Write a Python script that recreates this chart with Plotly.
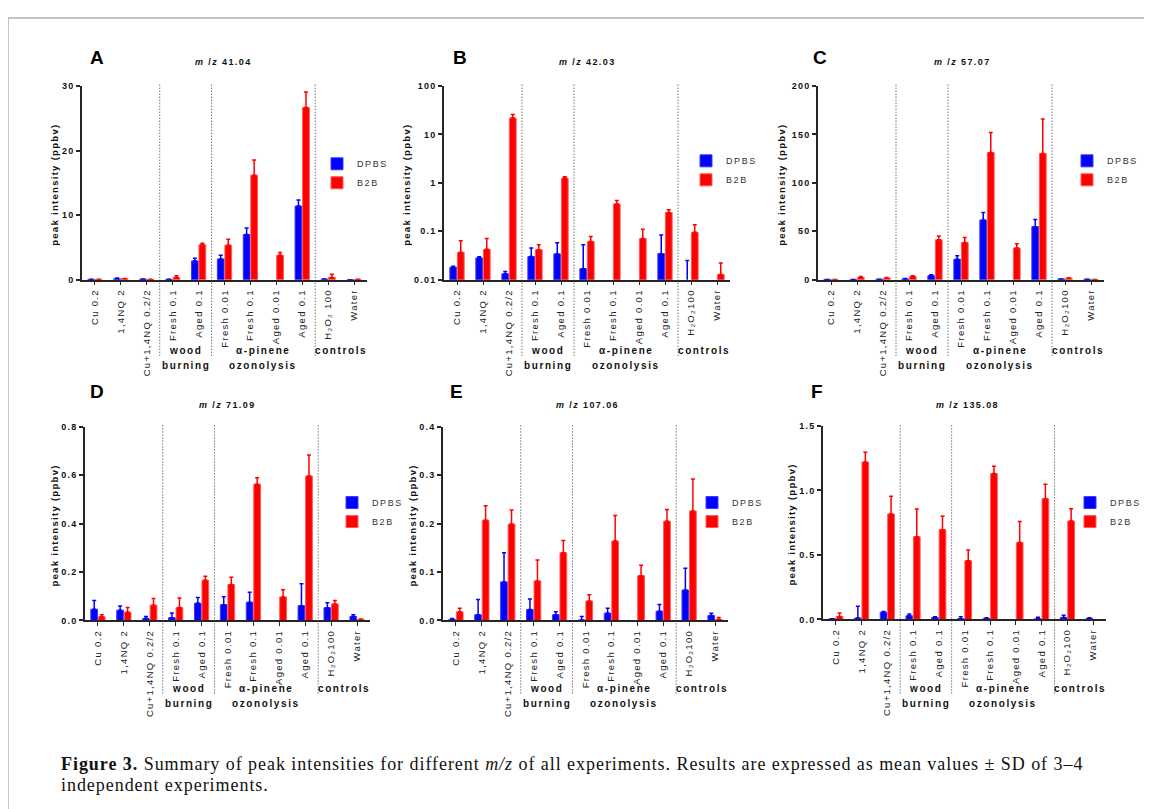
import plotly.graph_objects as go

W, H = 1152, 809
OFFX, OFFY = 8, 8  # page body margin compensation


def fx(px):
    return (px - OFFX) / W


def fy(py):
    return 1 - (py - OFFY) / H


def sp(text, ls):
    return f'<span style="letter-spacing:{ls}px">{text}</span>'


# ---------------- data ----------------
categories_A = ["Cu 0.2", "1,4NQ 2", "Cu+1,4NQ 0.2/2", "Fresh 0.1", "Aged 0.1",
                "Fresh 0.01", "Fresh 0.1", "Aged 0.01", "Aged 0.1",
                "H₂O₂ 100", "Water"]
categories = ["Cu 0.2", "1,4NQ 2", "Cu+1,4NQ 0.2/2", "Fresh 0.1", "Aged 0.1",
              "Fresh 0.01", "Fresh 0.1", "Aged 0.01", "Aged 0.1",
              "H₂O₂100", "Water"]
series_names = ["DPBS", "B2B"]

# panel A  m/z 41.04
dpbs_A = [0.05, 0.15, 0.1, 0.05, 2.9, 3.2, 7.0, None, 11.4, 0.1, 0.0]
dpbs_A_sd = [0, 0.1, 0, 0, 0.4, 0.6, 1.0, 0, 0.95, 0, 0]
b2b_A = [0.05, 0.15, 0.05, 0.35, 5.4, 5.35, 16.2, 3.8, 26.7, 0.35, 0.05]
b2b_A_sd = [0, 0.05, 0, 0.25, 0.25, 0.9, 2.35, 0.4, 2.4, 0.5, 0]

# panel B  m/z 42.03 (log axis)
dpbs_B = [0.0181, 0.0281, 0.0132, 0.030, 0.034, 0.0168, None, None, 0.0345, 0.005, None]
dpbs_B_sd = [0.0009, 0.0018, 0.0016, 0.015, 0.0237, 0.0357, 0, 0, 0.0495, 0.0198, 0]
b2b_B = [0.0367, 0.0423, 21.9, 0.0416, 1.245, 0.0615, 0.367, 0.0709, 0.244, 0.095, 0.0128]
b2b_B_sd = [0.0268, 0.0285, 4.1, 0.0109, 0.095, 0.0164, 0.063, 0.039, 0.036, 0.041, 0.0094]

# panel C  m/z 57.07
dpbs_C = [0.3, 0.3, 0.5, 0.8, 4.1, 21.1, 61.6, None, 54.8, 0.8, 0.5]
dpbs_C_sd = [0, 0, 0, 0.5, 1.0, 3.7, 7.8, 0, 7.4, 0, 0]
b2b_C = [0.3, 2.4, 1.7, 3.2, 41.2, 38.4, 131.3, 32.7, 130.3, 1.5, 0.3]
b2b_C_sd = [0, 0.8, 0.6, 0.9, 4.0, 5.1, 20.7, 4.4, 35.7, 0.5, 0]

# panel D  m/z 71.09
dpbs_D = [0.046, 0.042, 0.008, 0.011, 0.071, 0.065, 0.075, None, 0.061, 0.052, 0.016]
dpbs_D_sd = [0.036, 0.018, 0.008, 0.020, 0.024, 0.033, 0.041, 0, 0.090, 0.021, 0.007]
b2b_D = [0.015, 0.034, 0.063, 0.053, 0.166, 0.148, 0.563, 0.097, 0.597, 0.068, 0.004]
b2b_D_sd = [0.008, 0.019, 0.027, 0.040, 0.016, 0.030, 0.027, 0.030, 0.087, 0.014, 0.002]

# panel E  m/z 107.06
dpbs_E = [0.002, 0.0116, 0.0796, 0.0224, 0.0116, 0.001, 0.015, None, 0.019, 0.0626, 0.0102]
dpbs_E_sd = [0.002, 0.0314, 0.060, 0.0218, 0.0064, 0.007, 0.010, 0, 0.014, 0.0454, 0.0048]
b2b_E = [0.0177, 0.207, 0.199, 0.0816, 0.140, 0.040, 0.164, 0.0925, 0.205, 0.226, 0.002]
b2b_E_sd = [0.0073, 0.030, 0.029, 0.043, 0.025, 0.013, 0.053, 0.0215, 0.024, 0.066, 0.004]

# panel F  m/z 135.08
dpbs_F = [0.005, 0.01, 0.056, 0.028, 0.015, 0.005, 0.008, None, 0.005, 0.015, 0.008]
dpbs_F_sd = [0, 0.092, 0.006, 0.014, 0.005, 0.015, 0.004, 0, 0.011, 0.018, 0.004]
b2b_F = [0.023, 1.219, 0.817, 0.641, 0.695, 0.455, 1.130, 0.595, 0.934, 0.763, None]
b2b_F_sd = [0.027, 0.076, 0.137, 0.214, 0.104, 0.082, 0.056, 0.163, 0.114, 0.094, 0]

panel_letters = ["A", "B", "C", "D", "E", "F"]
panel_mz = ["41.04", "42.03", "57.07", "71.09", "107.06", "135.08"]
yticks_A = [0, 10, 20, 30]
yticks_B = [0.01, 0.1, 1, 10, 100]
yticklabels_B = ["0.01", "0.1", "1", "10", "100"]
yticks_C = [0, 50, 100, 150, 200]
yticks_D = [0.0, 0.2, 0.4, 0.6, 0.8]
yticks_E = [0.0, 0.1, 0.2, 0.3, 0.4]
yticks_F = [0.0, 0.5, 1.0, 1.5]
group_names = [("wood", "burning"), ("α-pinene", "ozonolysis"), ("controls", "")]
group_centers = [3.5, 6.5, 9.5]
separators = [2.5, 4.5, 8.5]
caption_lines = [
    "<b>Figure 3.</b> Summary of peak intensities for different <i>m/z</i> of all experiments. "
    "Results are expressed as mean values ± SD of 3–4",
    "independent experiments.",
]

# ---------------- layout geometry (pixels) ----------------
panels = [
    dict(dpbs=dpbs_A, dsd=dpbs_A_sd, b2b=b2b_A, bsd=b2b_A_sd, cats=categories_A,
         box=(82, 367, 82, 278), yr=[0, 30], yt=yticks_A, ytt=None, fmt="d",
         log=False, leg=(317, 146), ylab=55, letter=(97, 53), title=(223, 58)),
    dict(dpbs=dpbs_B, dsd=dpbs_B_sd, b2b=b2b_B, bsd=b2b_B_sd, cats=categories,
         box=(444, 730, 82, 278), yr=[-2, 2], yt=yticks_B, ytt=yticklabels_B, fmt="",
         log=True, leg=(686, 143), ylab=407, letter=(460, 53), title=(587, 58)),
    dict(dpbs=dpbs_C, dsd=dpbs_C_sd, b2b=b2b_C, bsd=b2b_C_sd, cats=categories,
         box=(818, 1104, 82, 278), yr=[0, 200], yt=yticks_C, ytt=None, fmt="d",
         log=False, leg=(1067, 143), ylab=782, letter=(820, 53), title=(962, 58)),
    dict(dpbs=dpbs_D, dsd=dpbs_D_sd, b2b=b2b_D, bsd=b2b_D_sd, cats=categories,
         box=(85, 370, 427, 623), yr=[0, 0.8], yt=yticks_D, ytt=None, fmt=".1f",
         log=False, leg=(332, 489), ylab=55, letter=(97, 391), title=(227, 405)),
    dict(dpbs=dpbs_E, dsd=dpbs_E_sd, b2b=b2b_E, bsd=b2b_E_sd, cats=categories,
         box=(443, 728, 427, 623), yr=[0, 0.4], yt=yticks_E, ytt=None, fmt=".1f",
         log=False, leg=(692, 489), ylab=413, letter=(456, 391), title=(587, 405)),
    dict(dpbs=dpbs_F, dsd=dpbs_F_sd, b2b=b2b_F, bsd=b2b_F_sd, cats=categories,
         box=(823, 1106, 426, 622), yr=[0, 1.5], yt=yticks_F, ytt=None, fmt=".1f",
         log=False, leg=(1070, 489), ylab=792, letter=(817, 391), title=(967, 405)),
]

FONT = "Liberation Sans, Arial, DejaVu Sans, sans-serif"
SERIF = "Liberation Serif, Times New Roman, serif"
AXC = "#262626"
BLUE = "#0000ff"
RED = "#ff0000"

fig = go.Figure()
layout = dict(
    width=W, height=H, margin=dict(l=0, r=0, t=0, b=0),
    paper_bgcolor="white", plot_bgcolor="white",
    barmode="group", bargap=0.42, bargroupgap=0.1,
    font=dict(family=FONT, color="#222"),
)
annotations = []
shapes = []

for i, p in enumerate(panels):
    n = i + 1
    sfx = "" if n == 1 else str(n)
    xa, ya, leg = "x" + sfx, "y" + sfx, "legend" + sfx
    xpos = list(range(len(p["cats"])))
    x0, x1, y0, y1 = p["box"]

    for name, vals, sd, col, lcol in [
        (series_names[0], p["dpbs"], p["dsd"], BLUE, "#3a3aff"),
        (series_names[1], p["b2b"], p["bsd"], RED, "#ff5a5a"),
    ]:
        fig.add_trace(go.Bar(
            x=xpos, y=vals, name=sp(name, 1.6), xaxis=xa, yaxis=ya, legend=leg,
            marker=dict(color=col, line=dict(color=lcol, width=1)),
            error_y=dict(type="data", symmetric=False, array=sd,
                         arrayminus=[0] * len(sd), color=col, thickness=1.5, width=2),
            hoverinfo="skip",
        ))

    layout["xaxis" + sfx] = dict(
        domain=[fx(x0), fx(x1)], anchor=ya, range=[-0.5, len(xpos) - 0.5],
        tickvals=xpos, ticktext=[sp(c, 1.3) for c in p["cats"]], tickangle=-90,
        showline=True, linecolor=AXC, linewidth=1.5, ticks="outside", ticklen=4,
        tickwidth=1, tickcolor=AXC, showgrid=False, zeroline=False,
        tickfont=dict(family=FONT, size=9.5, color="#222"), fixedrange=True,
    )
    yax = dict(
        domain=[fy(y1), fy(y0)], anchor=xa, range=p["yr"], tickvals=p["yt"],
        showline=True, linecolor=AXC, linewidth=1.5, ticks="outside", ticklen=4,
        tickwidth=1.5, tickcolor=AXC, showgrid=False, zeroline=False,
        tickfont=dict(family=FONT, size=9, color="#111", weight="bold"), fixedrange=True,
    )
    if p["log"]:
        yax["type"] = "log"
        yax["ticktext"] = [sp(t, 1.2) for t in p["ytt"]]
    else:
        yax["ticktext"] = [sp(format(v, p["fmt"]), 1.2) for v in p["yt"]]
    layout["yaxis" + sfx] = yax

    lx, ly = p["leg"]
    layout[leg] = dict(x=fx(lx), y=fy(ly), xanchor="left", yanchor="top",
                       bgcolor="rgba(0,0,0,0)", font=dict(family=FONT, size=9, color="#333"),
                       tracegroupgap=0, itemclick=False, itemdoubleclick=False)

    # separators
    top_px = y0 - 2
    bot_px = 355 if n <= 3 else 697
    for s in separators:
        shapes.append(dict(type="line", xref=xa, yref="paper", x0=s, x1=s,
                           y0=fy(bot_px), y1=fy(top_px),
                           line=dict(color="#333", width=1, dash="1px,2px")))
    # group labels
    l1 = 350 if n <= 3 else 692
    l2 = 365 if n <= 3 else 707
    for (t1, t2), c in zip(group_names, group_centers):
        for t, yy in [(t1, l1), (t2, l2)]:
            if t:
                annotations.append(dict(
                    text="<b>" + sp(t, 1.6) + "</b>", xref=xa, yref="paper", x=c, y=fy(yy),
                    showarrow=False, xanchor="center", yanchor="middle",
                    font=dict(family=FONT, size=10, color="#111")))
    # y-axis title
    annotations.append(dict(
        text="<b>" + sp("peak intensity (ppbv)", 1.3) + "</b>", xref="paper", yref="paper",
        x=fx(p["ylab"]), y=fy((y0 + y1) / 2 + 2), textangle=-90, showarrow=False,
        xanchor="center", yanchor="middle", font=dict(family=FONT, size=9.5, color="#111")))
    # panel letter
    lx2, ly2 = p["letter"]
    annotations.append(dict(
        text="<b>" + panel_letters[i] + "</b>", xref="paper", yref="paper",
        x=fx(lx2), y=fy(ly2), showarrow=False, xanchor="center", yanchor="middle",
        font=dict(family=FONT, size=19, color="#000")))
    # title
    tx, ty = p["title"]
    annotations.append(dict(
        text="<b>" + sp("<i>m</i> /<i>z</i> " + panel_mz[i], 1.4) + "</b>",
        xref="paper", yref="paper", x=fx(tx), y=fy(ty), showarrow=False,
        xanchor="center", yanchor="middle", font=dict(family=FONT, size=9, color="#111")))

# figure frame
shapes.append(dict(type="line", xref="paper", yref="paper", x0=fx(8), x1=1, y0=fy(13), y1=fy(13),
                   line=dict(color="#c4c4c4", width=2)))
shapes.append(dict(type="line", xref="paper", yref="paper", x0=fx(8), x1=fx(8), y0=0, y1=fy(13),
                   line=dict(color="#c4c4c4", width=2)))

# caption (two lines)
for txt, yy in zip(caption_lines, [768, 790]):
    annotations.append(dict(
        text=sp(txt, 0.95), xref="paper", yref="paper", x=fx(59), y=fy(yy),
        xanchor="left", yanchor="middle", align="left", showarrow=False,
        font=dict(family=SERIF, size=18, color="#111")))

layout["annotations"] = annotations
layout["shapes"] = shapes
fig.update_layout(**layout)
fig.write_html("out.html")
